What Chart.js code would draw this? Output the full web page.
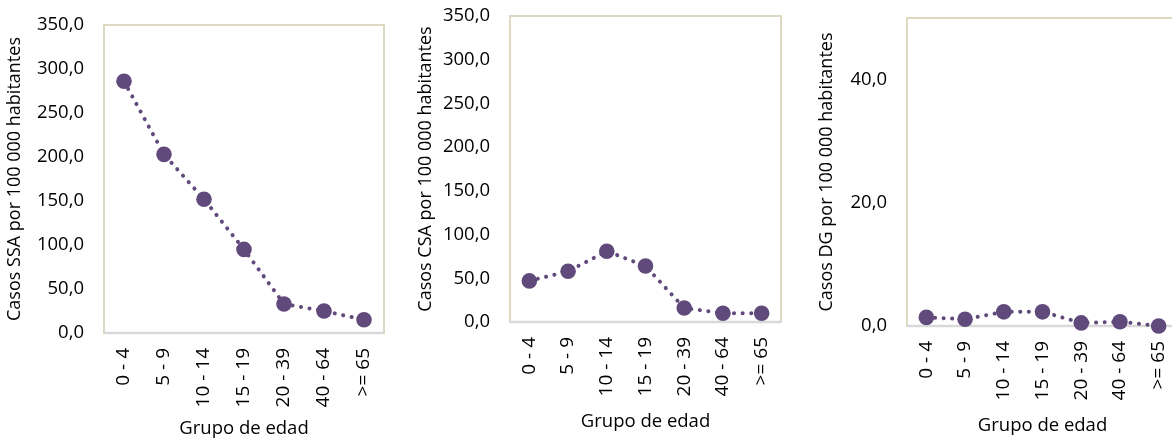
<!DOCTYPE html>
<html>
<head>
<meta charset="utf-8">
<script src="https://cdn.jsdelivr.net/npm/chart.js@4.4.1/dist/chart.umd.min.js"></script>
<style>
    html, body { margin: 0; padding: 0; background: #fff; overflow: hidden; width: 1172px; height: 443px; }
    .panel { position: absolute; top: 0; }
</style>
</head>
<body>
<div class="panel" style="left: 0px; width: 396px; height: 443px;"><canvas id="chartSSA"></canvas></div>
<div class="panel" style="left: 410px; width: 382px; height: 436px;"><canvas id="chartCSA"></canvas></div>
<div class="panel" style="left: 812px; width: 378px; height: 440px;"><canvas id="chartDG"></canvas></div>
<script>
// Age groups and rates per 100 000 inhabitants
const ageGroups = ['0 - 4', '5 - 9', '10 - 14', '15 - 19', '20 - 39', '40 - 64', '>= 65'];
const ssaRates = [286, 203, 152, 95, 33, 25, 15];
const csaRates = [47, 58, 81, 64, 16, 10, 10];
const dgRates = [1.4, 1.1, 2.3, 2.3, 0.5, 0.7, 0.0];

const ssaTicks = { max: 350, step: 50 };
const csaTicks = { max: 350, step: 50 };
const dgTicks = { max: 50, step: 20 };

const lineColor = '#604a7b';
const frameColor = '#ddd9c3';
const axisColor = '#d9d9d9';
const fontFamily = "'Open Sans', 'Noto Sans', sans-serif";

// draws the beige frame around the plot area
const framePlugin = {
    id: 'frame',
    beforeDatasetsDraw(chart) {
        const a = chart.chartArea;
        const ctx = chart.ctx;
        ctx.save();
        ctx.strokeStyle = frameColor;
        ctx.lineWidth = 2;
        ctx.strokeRect(a.left, a.top, a.right - a.left, a.bottom - a.top);
        ctx.strokeStyle = axisColor;
        ctx.lineWidth = 2.5;
        ctx.beginPath();
        ctx.moveTo(a.left, a.bottom);
        ctx.lineTo(a.right, a.bottom);
        ctx.stroke();
        ctx.restore();
    }
};

function makeChart(id, data, yTitle, ticksCfg, opts) {
    const ctx = document.getElementById(id);
    const chart = new Chart(ctx, {
        type: 'line',
        data: {
            labels: ageGroups,
            datasets: [{
                data: data,
                borderColor: lineColor,
                backgroundColor: lineColor,
                borderWidth: 4,
                borderDash: [0.1, 8.5],
                borderCapStyle: 'round',
                pointRadius: 7.8,
                pointHoverRadius: 7.8,
                pointBackgroundColor: lineColor,
                pointBorderWidth: 0,
                tension: 0,
                clip: false
            }]
        },
        options: {
            responsive: true,
            maintainAspectRatio: false,
            animation: false,
            layout: { padding: { top: opts.top, right: opts.right, left: opts.left, bottom: 0 } },
            plugins: { legend: { display: false }, tooltip: { enabled: false } },
            scales: {
                x: {
                    offset: true,
                    // tick marks are hidden, their length only spaces the labels
                    grid: { display: false, drawTicks: true, tickLength: 12 },
                    border: { display: false },
                    ticks: {
                        color: '#000',
                        font: { family: fontFamily, size: 19 },
                        maxRotation: 90,
                        minRotation: 90,
                        padding: 3,
                        autoSkip: false
                    },
                    title: {
                        display: true,
                        text: 'Grupo de edad',
                        color: '#000',
                        font: { family: fontFamily, size: 18.5 },
                        padding: { top: 4, bottom: 3 }
                    },
                    afterFit(scale) { scale.height = opts.xHeight; }
                },
                y: {
                    min: 0,
                    max: ticksCfg.max,
                    grid: { display: false, drawTicks: true, tickLength: 17 },
                    border: { display: false },
                    afterBuildTicks(scale) {
                        scale.ticks = scale.ticks.filter(t => t.value % ticksCfg.step === 0);
                    },
                    ticks: {
                        stepSize: ticksCfg.step,
                        color: '#000',
                        padding: 3,
                        font: { family: fontFamily, size: 18.5 },
                        callback: v => v.toFixed(1).replace('.', ',')
                    },
                    title: {
                        display: true,
                        text: yTitle,
                        color: '#000',
                        font: { family: fontFamily, size: 18 },
                        padding: { top: 0, bottom: 2 }
                    },
                    afterFit(scale) { scale.width = opts.yWidth; }
                }
            }
        },
        plugins: [framePlugin]
    });
    // nudge paddings so the plot area sits where the original one does
    const dTop = opts.plotTop - chart.chartArea.top;
    const dRight = chart.chartArea.right - opts.plotRight;
    if (Math.abs(dTop) > 0.5 || Math.abs(dRight) > 0.5) {
        chart.options.layout.padding.top = Math.max(0, opts.top + dTop);
        chart.options.layout.padding.right = Math.max(0, opts.right + dRight);
        chart.update('none');
    }
    return chart;
}

makeChart('chartSSA', ssaRates, 'Casos SSA por 100 000 habitantes', ssaTicks,
    { top: 25, plotTop: 25, right: 12, plotRight: 384, left: 4, yWidth: 100, xHeight: 110 });
makeChart('chartCSA', csaRates, 'Casos CSA por 100 000 habitantes', csaTicks,
    { top: 16, plotTop: 16, right: 11, plotRight: 371, left: 5, yWidth: 95, xHeight: 114 });
makeChart('chartDG', dgRates, 'Casos DG por 100 000 habitantes', dgTicks,
    { top: 18, plotTop: 18, right: 12, plotRight: 366, left: 4, yWidth: 91, xHeight: 114 });
</script>
</body>
</html>
